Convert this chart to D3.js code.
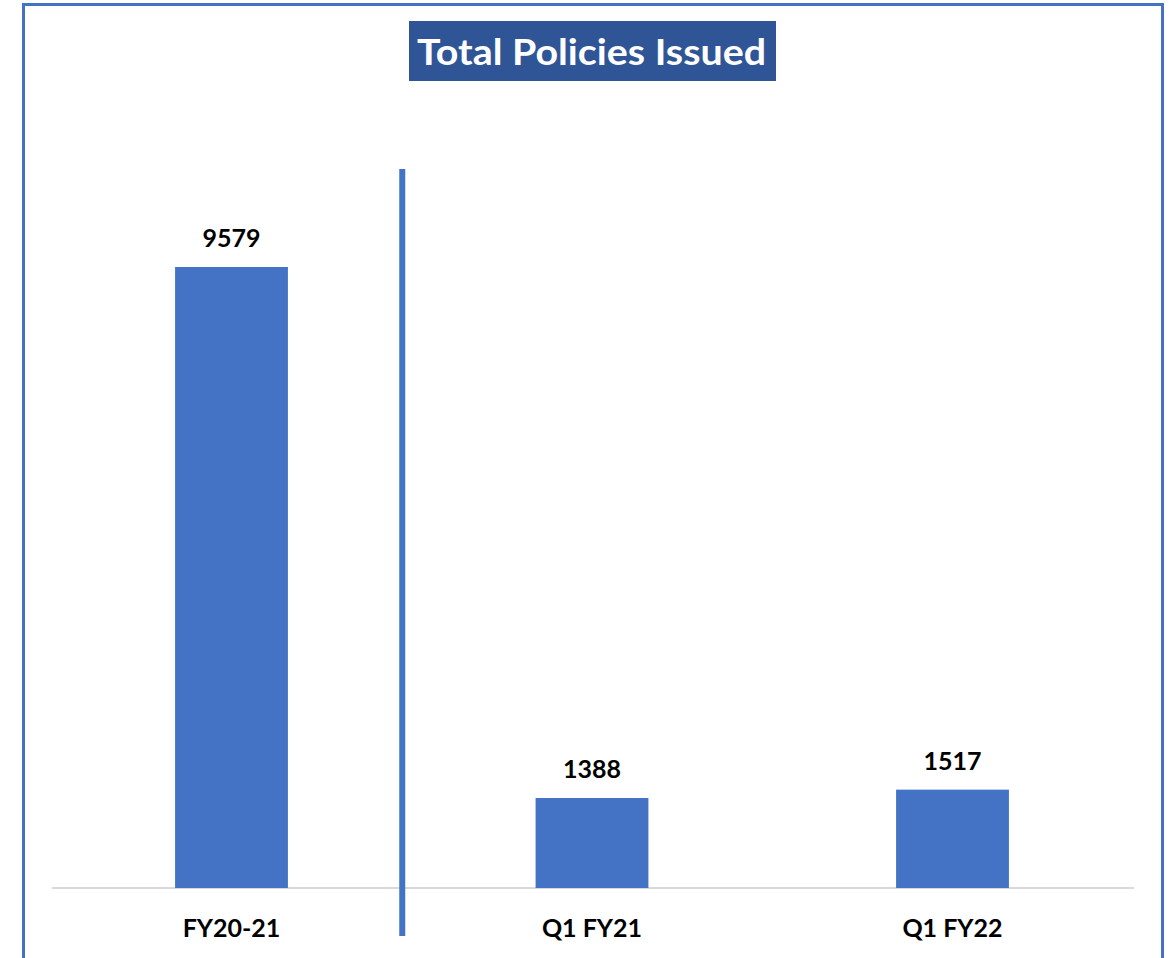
<!DOCTYPE html>
<html>
<head>
<meta charset="utf-8">
<script src="https://cdn.jsdelivr.net/npm/d3@7"></script>
<style>
  html, body { margin: 0; padding: 0; background: #ffffff; }
  svg { display: block; }
</style>
</head>
<body>
<svg id="chart" width="1173" height="958"></svg>
<script>
const categories = ["FY20-21", "Q1 FY21", "Q1 FY22"];
const values = [9579, 1388, 1517];
const titleText = "Total Policies Issued";

const W = 1173, H = 958;
const svg = d3.select("#chart");
const font = "Lato, 'Open Sans', sans-serif";

// outer border
svg.append("rect")
  .attr("x", 23.5).attr("y", 4.5)
  .attr("width", 1139).attr("height", 1000)
  .attr("fill", "none")
  .attr("stroke", "#4472C4")
  .attr("stroke-width", 3);

// title box
const tg = svg.append("g");
tg.append("rect")
  .attr("x", 409).attr("y", 21)
  .attr("width", 367).attr("height", 60)
  .attr("fill", "#2F5597");
tg.append("text")
  .attr("x", 591.5).attr("y", 65)
  .attr("text-anchor", "middle")
  .attr("font-family", font)
  .attr("font-weight", "bold")
  .attr("font-size", 37)
  .attr("textLength", 349)
  .attr("lengthAdjust", "spacingAndGlyphs")
  .attr("fill", "#ffffff")
  .text(titleText);

// scales
const baseY = 888;
const x = d3.scaleBand().domain(categories).range([51.25, 1132.75]).paddingInner(0).paddingOuter(0);
const y = d3.scaleLinear().domain([0, 12000]).range([baseY, baseY - 12000 * (621 / 9579)]);
const barW = x.bandwidth() * 0.313;

// baseline
svg.append("line")
  .attr("x1", 52).attr("x2", 1134)
  .attr("y1", baseY).attr("y2", baseY)
  .attr("stroke", "#D9D9D9")
  .attr("stroke-width", 2);

// bars
svg.selectAll("rect.bar")
  .data(values)
  .join("rect")
  .attr("class", "bar")
  .attr("x", (d, i) => x(categories[i]) + x.bandwidth() / 2 - barW / 2)
  .attr("y", d => y(d))
  .attr("width", barW)
  .attr("height", d => y(0) - y(d))
  .attr("fill", "#4472C4");

// value labels
svg.selectAll("text.val")
  .data(values)
  .join("text")
  .attr("class", "val")
  .attr("x", (d, i) => x(categories[i]) + x.bandwidth() / 2)
  .attr("y", d => y(d) - 20)
  .attr("text-anchor", "middle")
  .attr("font-family", font)
  .attr("font-weight", "bold")
  .attr("font-size", 25)
  .attr("fill", "#000000")
  .text(d => d);

// category labels
svg.selectAll("text.cat")
  .data(categories)
  .join("text")
  .attr("class", "cat")
  .attr("x", d => x(d) + x.bandwidth() / 2)
  .attr("y", 937)
  .attr("text-anchor", "middle")
  .attr("font-family", font)
  .attr("font-weight", "bold")
  .attr("font-size", 25)
  .attr("fill", "#000000")
  .text(d => d);

// separator line
const sepX = x(categories[1]) - 9.5;
svg.append("line")
  .attr("x1", sepX).attr("x2", sepX)
  .attr("y1", 169).attr("y2", 936)
  .attr("stroke", "#4472C4")
  .attr("stroke-width", 6);
</script>
</body>
</html>
